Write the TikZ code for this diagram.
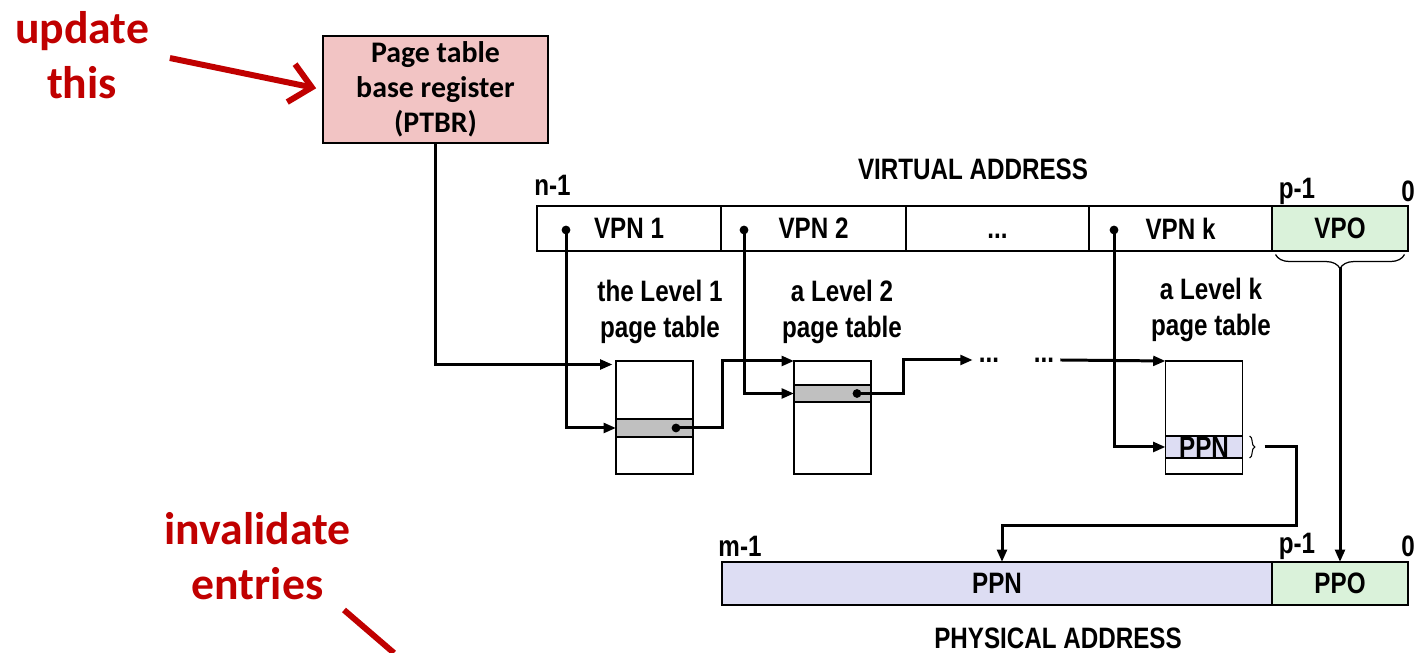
\documentclass[tikz,border=0pt]{standalone}
\usepackage{fontspec}
\setmainfont{Liberation Sans}
\newfontfamily\narrowsans[FakeStretch=0.82]{Liberation Sans}
\newfontfamily\calibrisans{Carlito}
\usetikzlibrary{shapes,arrows.meta,decorations.pathreplacing}
\definecolor{notered}{RGB}{192,0,0}
\definecolor{regpink}{RGB}{242,196,196}
\definecolor{offgreen}{RGB}{218,242,218}
\definecolor{ppnblue}{RGB}{221,221,243}
\definecolor{rowgray}{RGB}{192,192,192}

\begin{document}
\begin{tikzpicture}

\tikzstyle{every node} = [font=\narrowsans\bfseries\fontsize{16.8}{20.4}\selectfont, align=center]
\tikzstyle{cell} = [rectangle, draw, line width=1.1pt, minimum height=0.9cm, inner sep=0pt, outer sep=0pt]
\tikzstyle{pagetab} = [rectangle, draw, line width=0.85pt, minimum width=1.54cm, minimum height=2.26cm, inner sep=0pt, outer sep=0pt]
\tikzstyle{entry} = [rectangle, draw, line width=0.85pt, minimum width=1.54cm, inner sep=0pt, outer sep=0pt]
\tikzstyle{dot} = [circle, fill, inner sep=0pt, minimum size=5pt]
\tikzstyle{conn} = [line width=1.7pt, -{Triangle[length=7pt,width=5.5pt]}]
\tikzstyle{note} = [font=\calibrisans\bfseries\fontsize{26}{31}\selectfont, text=notered]
\tikzstyle{redline} = [line width=3.4pt, draw=notered]

\useasboundingbox (0,0) rectangle (28.32,13.06);

\node[note] (upd) at (1.64,11.96) {update\\this};
\node[note] (inv) at (5.15,1.94) {invalidate\\entries};

\node[rectangle, draw, line width=1.1pt, fill=regpink, minimum width=4.5cm, minimum height=2.12cm,
      font=\calibrisans\bfseries\fontsize{17}{20}\selectfont] (ptbr) at (8.71,11.27) {Page table\\base register\\(PTBR)};

\node (va) at (19.46,9.68) {VIRTUAL ADDRESS};
\node (n1) at (11.05,9.36) {n-1};
\node (vp1) at (25.94,9.23) {p-1};
\node (v0) at (28.16,9.23) {0};

\node[cell, minimum width=3.68cm] (c1) at (12.58,8.49) {VPN 1};
\node[cell, minimum width=3.70cm] (c2) at (16.27,8.49) {VPN 2};
\node[cell, minimum width=3.66cm] (c3) at (19.95,8.49) {\vphantom{V}...};
\node[cell, minimum width=3.66cm] (ck) at (23.61,8.49) {VPN k};
\node[cell, minimum width=2.72cm, fill=offgreen] (vpo) at (26.80,8.49) {VPO};

\node[dot] (d1) at (11.32,8.46) {};
\node[dot] (d2) at (14.88,8.46) {};
\node[dot] (dk) at (22.28,8.46) {};

\node (l1) at (13.20,6.82) {the Level 1\\page table};
\node (l2) at (16.84,6.82) {a Level 2\\page table};
\node (lk) at (24.22,6.86) {a Level k\\page table};

\node[pagetab] (t1) at (13.09,4.71) {};
\node[pagetab] (t2) at (16.65,4.71) {};
\node[pagetab] (tk) at (24.08,4.71) {};

\node[entry, fill=rowgray, minimum height=0.36cm] (r1) at (13.09,4.50) {};
\node[entry, fill=rowgray, minimum height=0.34cm] (r2) at (16.65,5.19) {};
\node[entry, fill=ppnblue, minimum height=0.44cm] (rk) at (24.08,4.12) {PPN};

\node[dot] (p1) at (13.52,4.50) {};
\node[dot] (p2) at (17.14,5.19) {};

\node (e1) at (19.78,5.86) {...};
\node (e2) at (20.88,5.86) {...};

\node (pa) at (21.16,0.30) {PHYSICAL ADDRESS};
\node (m1) at (14.80,2.14) {m-1};
\node (pp1) at (25.94,2.14) {p-1};
\node (p0) at (28.16,2.14) {0};

\node[cell, minimum width=11.0cm, minimum height=0.86cm, fill=ppnblue] (ppn) at (19.94,1.39) {PPN};
\node[cell, minimum width=2.72cm, minimum height=0.86cm, fill=offgreen] (ppo) at (26.80,1.39) {PPO};

\draw[redline, -{Straight Barb[length=12pt,width=22pt]}, shorten <=0.3cm, shorten >=0.12cm] (upd.east) -- (ptbr.west);
\coordinate (invtop) at (6.88,0.86);
\coordinate (invend) at (7.88,0);
\draw[redline] (invtop) -- (invend);

\draw[conn, shorten >=2pt] (ptbr.south) |- ([yshift=-2pt]t1.north west);
\draw[conn] (d1.center) |- (r1.west);
\draw[conn] (d2.center) |- (r2.west);
\draw[conn] (dk.center) |- (rk.west);
\draw[conn] (p1.center) -- ++(0.92,0) |- (t2.north west);
\draw[conn] (p2.center) -- ++(0.92,0) |- (e1.west);
\draw[conn] (e2.east) -- (tk.north west);

\draw[decorate, decoration={brace, amplitude=3pt}, line width=0.6pt] ([xshift=4pt]rk.north east) -- ([xshift=4pt]rk.south east);
\draw[conn] ([xshift=0.44cm]rk.east) -| ++(0.64,-1.58) -| ([xshift=0.1cm]ppn.north);

\draw[decorate, decoration={brace, amplitude=8pt}, line width=0.7pt] ([xshift=-2pt,yshift=-2pt]vpo.south east) -- ([xshift=2pt,yshift=-2pt]vpo.south west);
\draw[conn] ([yshift=-0.33cm]vpo.south) -- (ppo.north);
\end{tikzpicture}
\end{document}
